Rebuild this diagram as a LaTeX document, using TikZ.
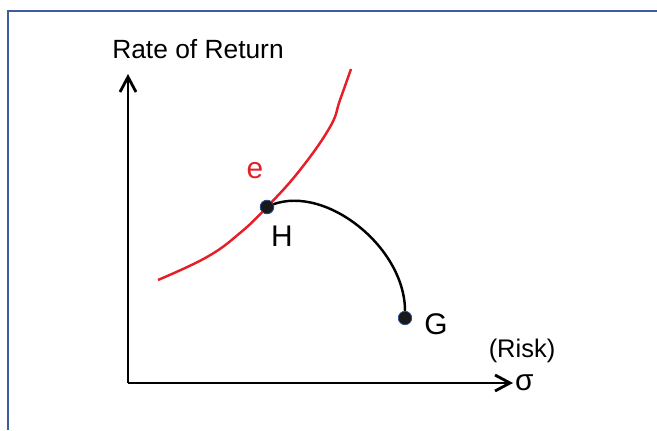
\documentclass[tikz,border=0pt]{standalone}
\usepackage{fontspec}
\setmainfont{Liberation Sans}
\usetikzlibrary{arrows.meta,positioning}
\definecolor{frameblue}{RGB}{62,92,160}
\definecolor{curvered}{RGB}{230,30,40}
\definecolor{dotblue}{RGB}{40,80,150}

\begin{document}
\begin{tikzpicture}[
  axis/.style={line width=1.6pt, -{Straight Barb[length=3mm,width=3.2mm]}},
  curve/.style={line width=1.4pt},
  dot/.style={circle, fill=black!90, draw=dotblue, line width=0.4pt, inner sep=0pt, minimum size=2.7mm},
  lbl/.style={font=\fontsize{17}{19}\selectfont}]
\useasboundingbox (0,0) rectangle (13.14,8.6);
% frame
\draw[frameblue, line width=1.1pt] (0.16,0) -- (0.16,8.38) -- (13.14,8.38);
% axes
\coordinate (origin) at (2.56,0.94);
\coordinate (ytip) at (2.56,7.12);
\coordinate (xtip) at (10.26,0.94);
\draw[axis] (origin) -- (ytip);
\draw[axis] (origin) -- (xtip);
\node[font=\fontsize{15}{17}\selectfont] (yname) at (3.96,7.62) {Rate of Return};
\node[lbl, right=0pt of xtip, inner sep=1pt] (sigma) {σ};
\node[font=\fontsize{14.5}{17}\selectfont] (risk) at (10.44,1.58) {(Risk)};
% points
\node[dot] (H) at (5.34,4.46) {};
\node[dot] (G) at (8.1,2.24) {};
% efficient frontier
\draw[curve, curvered] plot[smooth, tension=0.7] coordinates {(3.16,3.0) (4.14,3.46) (4.8,3.94) (5.34,4.46) (6.0,5.2) (6.6,6.06) (6.8,6.6) (7.02,7.22)};
\draw[curve] (H.center) .. controls (6.4,5.0) and (8.1,3.7) .. (G.north);
\node[dot] at (H) {};
\node[lbl, curvered] (e) at (5.1,5.18) {e};
\node[lbl] (Hname) at (5.64,3.88) {H};
\node[lbl] (Gname) at (8.72,2.12) {G};
\end{tikzpicture}
\end{document}
